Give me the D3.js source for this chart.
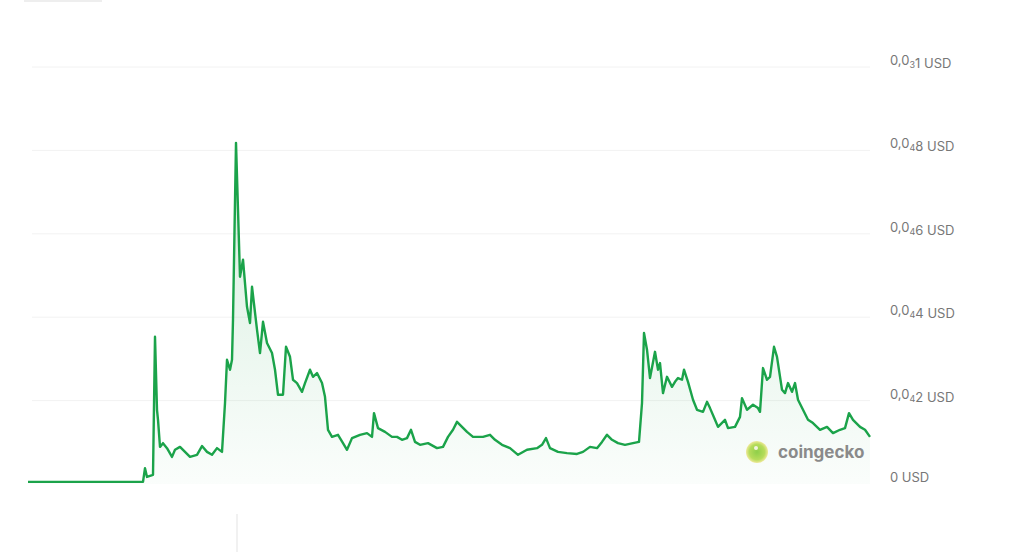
<!DOCTYPE html>
<html><head><meta charset="utf-8">
<script src="https://cdn.jsdelivr.net/npm/d3@7"></script>
<style>
html,body{margin:0;padding:0;background:#fff;}
svg{display:block;}
</style></head>
<body>
<svg id="chart" width="1024" height="552"></svg>
<script>
// day index since series start
const days = [0,115,117,119,125,127,129,130,132,135,139,144,147,152,157,162,169,174,179,184,189,194,197,199,202,204,205,208,212,215,219,222,224,229,232,235,239,244,247,250,255,258,262,265,269,274,277,282,285,289,294,297,300,304,310,315,319,324,332,339,344,346,350,357,364,369,374,379,383,387,392,400,409,415,420,425,429,434,439,445,455,462,467,474,482,490,499,509,514,518,522,530,539,549,555,562,569,574,579,584,590,597,605,611,614,616,619,622,627,630,632,635,639,644,647,650,654,656,660,665,669,675,679,682,687,690,697,700,707,712,714,719,725,730,732,735,739,742,746,749,754,757,760,764,767,770,775,780,785,792,799,805,812,817,821,825,832,837,842];
// price in micro-USD (1e-6 USD)
const priceMicro = [0.5,0.5,3.8,1.7,2.2,35.3,17.8,15.4,8.9,9.8,8.6,6.5,8.2,8.9,7.7,6.5,7.0,9.1,7.7,7.0,8.6,7.7,19.4,29.8,27.4,29.8,39.4,81.8,49.7,53.8,42.5,38.6,47.3,37.0,31.4,38.9,33.8,31.4,27.4,21.4,21.4,32.9,30.5,25.0,24.2,22.1,24.2,27.4,25.7,26.6,24.2,20.9,13.0,11.3,11.8,9.8,8.2,11.0,11.8,12.2,11.3,17.0,13.4,12.5,11.3,11.3,10.6,11.0,13.0,10.1,9.4,9.8,8.6,8.9,11.3,13.0,14.9,13.7,12.5,11.3,11.3,11.8,10.6,9.4,8.6,7.0,8.2,8.6,9.4,11.0,8.6,7.7,7.4,7.2,7.7,8.9,8.6,10.1,11.8,10.6,9.8,9.4,9.8,10.1,19.4,36.2,32.2,25.4,31.7,27.4,29.0,21.8,25.7,23.3,24.5,25.4,25.0,27.4,24.5,20.2,17.8,17.3,19.7,18.2,15.4,13.7,15.4,13.4,13.7,16.1,20.6,17.8,19.0,18.2,17.3,27.8,25.0,25.7,32.9,30.5,22.6,21.8,24.2,22.1,24.2,20.2,17.8,15.4,14.6,13.0,13.7,12.2,13.0,13.4,17.0,15.4,13.7,13.0,11.3];
const tickValues = [0, 0.00002, 0.00004, 0.00006, 0.00008, 0.0001];
const tickLabels = ["0 USD", "0,0₄2 USD", "0,0₄4 USD", "0,0₄6 USD", "0,0₄8 USD", "0,0₃1 USD"];

const data = days.map((d,i)=>({d, v: priceMicro[i]*1e-6}));
const svg = d3.select("#chart");
const x = d3.scaleLinear().domain([0, d3.max(days)]).range([28, 870]);
const y = d3.scaleLinear().domain([0, 0.0001]).range([484, 67]);

// faint header remnants
svg.append("rect").attr("x",24).attr("y",0).attr("width",78).attr("height",2).attr("fill","#eeeeee");
svg.append("rect").attr("x",236).attr("y",514).attr("width",2).attr("height",38).attr("fill","#f1f1f1");

const defs = svg.append("defs");
const grad = defs.append("linearGradient").attr("id","ag").attr("gradientUnits","userSpaceOnUse")
  .attr("x1",0).attr("x2",0).attr("y1",y(0.00008)).attr("y2",y(0));
grad.append("stop").attr("offset",0).attr("stop-color","#1ba34a").attr("stop-opacity",0.18);
grad.append("stop").attr("offset",1).attr("stop-color","#1ba34a").attr("stop-opacity",0.02);

// gridlines
const subs = {"₀":"0","₁":"1","₂":"2","₃":"3","₄":"4","₅":"5","₆":"6","₇":"7","₈":"8","₉":"9"};
svg.append("g").selectAll("line").data(tickValues.filter(v=>v>0)).join("line")
  .attr("x1",32).attr("x2",870).attr("y1",d=>y(d)).attr("y2",d=>y(d))
  .attr("stroke","#f2f2f2").attr("stroke-width",1);

// area + line
svg.append("path").datum(data)
  .attr("d", d3.area().x(d=>x(d.d)).y0(y(0)).y1(d=>y(d.v)))
  .attr("fill","url(#ag)");
svg.append("path").datum(data)
  .attr("d", d3.line().x(d=>x(d.d)).y(d=>y(d.v)))
  .attr("fill","none").attr("stroke","#1ba34a").attr("stroke-width",2.4).attr("stroke-linejoin","round");

// y-axis labels
const lab = svg.append("g").attr("font-family","Inter, 'Noto Sans', sans-serif").attr("font-size",13).attr("fill","#777777");
tickValues.forEach((v,i)=>{
  const t = lab.append("text").attr("x",890).attr("y",y(v)-2);
  let buf = "";
  const flush = ()=>{ if(buf){ t.append("tspan").text(buf); buf=""; } };
  for (const ch of tickLabels[i]) {
    if (subs[ch]) { flush(); t.append("tspan").attr("font-size",9).attr("dy",3).text(subs[ch]); t.append("tspan").attr("dy",-3).text(""); }
    else buf += ch;
  }
  flush();
});

// watermark
const wm = svg.append("g");
const lg = defs.append("radialGradient").attr("id","lg");
lg.append("stop").attr("offset",0).attr("stop-color","#8fcf4a");
lg.append("stop").attr("offset",0.7).attr("stop-color","#b6dc5a");
lg.append("stop").attr("offset",1).attr("stop-color","#efe99a");
wm.append("circle").attr("cx",757).attr("cy",452).attr("r",11).attr("fill","url(#lg)");
wm.append("circle").attr("cx",756).attr("cy",448).attr("r",2).attr("fill","#f4f4e0");
wm.append("text").attr("x",778).attr("y",458).attr("font-family","Inter, 'Noto Sans', sans-serif")
  .attr("font-size",17).attr("font-weight",700).attr("fill","#8a8a8a").text("coingecko");
</script>
</body></html>
